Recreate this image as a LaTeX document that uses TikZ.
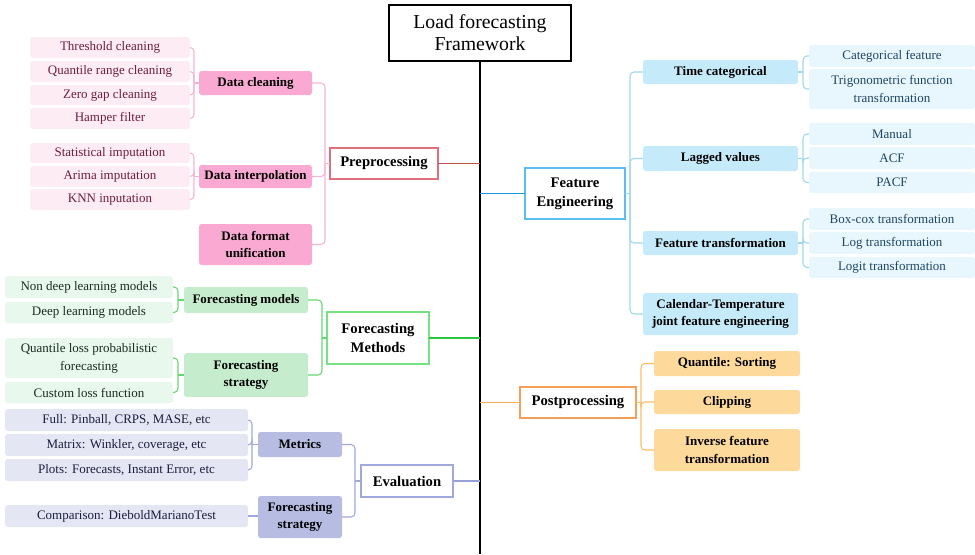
\documentclass[tikz,border=0pt]{standalone}
\usepackage{fontspec}
\setmainfont{Liberation Serif}
\definecolor{pMain}{RGB}{192,80,77}
\definecolor{pBorder}{RGB}{222,112,125}
\definecolor{pMid}{RGB}{250,170,210}
\definecolor{pLeaf}{RGB}{253,236,244}
\definecolor{pLine}{RGB}{246,180,210}
\definecolor{pText}{RGB}{110,30,60}
\definecolor{gMain}{RGB}{40,200,60}
\definecolor{gBorder}{RGB}{120,225,130}
\definecolor{gMid}{RGB}{198,236,206}
\definecolor{gLeaf}{RGB}{232,248,236}
\definecolor{gLine}{RGB}{100,215,110}
\definecolor{gText}{RGB}{25,45,30}
\definecolor{lMain}{RGB}{150,160,215}
\definecolor{lBorder}{RGB}{160,168,220}
\definecolor{lMid}{RGB}{182,188,226}
\definecolor{lLeaf}{RGB}{228,230,244}
\definecolor{lLine}{RGB}{160,168,220}
\definecolor{lText}{RGB}{28,28,60}
\definecolor{bMain}{RGB}{30,150,230}
\definecolor{bBorder}{RGB}{90,190,240}
\definecolor{bMid}{RGB}{197,235,250}
\definecolor{bLeaf}{RGB}{232,246,253}
\definecolor{bLine}{RGB}{160,215,240}
\definecolor{bText}{RGB}{30,70,100}
\definecolor{oMain}{RGB}{250,170,90}
\definecolor{oBorder}{RGB}{245,160,90}
\definecolor{oMid}{RGB}{253,217,155}
\definecolor{oLine}{RGB}{252,190,100}
\begin{document}
\begin{tikzpicture}[x=0.75pt,y=-0.75pt,
  bx/.style n args={4}{minimum width={(#3-#1)*0.75pt}, minimum height={(#4-#2)*0.75pt}, at={({(#1+#3)/2},{(#2+#4)/2})}},
  base/.style={rectangle, inner sep=0pt, outer sep=0pt, align=center},
  leaf/.style={base, rounded corners=2pt, font=\fontsize{9.75}{13.5}\selectfont},
  midbox/.style={base, rounded corners=2pt, font=\bfseries\fontsize{9.75}{12.8}\selectfont},
  topbox/.style={base, fill=white, line width=1pt, font=\bfseries\fontsize{11}{14.5}\selectfont},
  pleaf/.style={leaf, fill=pLeaf, text=pText},
  pmid/.style={midbox, fill=pMid},
  gleaf/.style={leaf, fill=gLeaf, text=gText},
  gmid/.style={midbox, fill=gMid},
  lleaf/.style={leaf, fill=lLeaf, text=lText},
  lmid/.style={midbox, fill=lMid},
  bleaf/.style={leaf, fill=bLeaf, text=bText},
  bmid/.style={midbox, fill=bMid},
  omid/.style={midbox, fill=oMid},
  link/.style={line width=0.8pt, rounded corners=3pt},
  mainlink/.style={line width=1.1pt}
]
\useasboundingbox (0,0) rectangle (975,554);
\coordinate (bottom) at (480,554);

% title and trunk
\node[base, draw, line width=1pt, fill=white, font=\fontsize{14.8}{16.5}\selectfont, bx={389}{5}{571}{61}] (title) {Load forecasting\\Framework};
\draw[line width=1.2pt] (title.south) -- (title.south |- bottom);

% ---------------- Preprocessing
\node[topbox, draw=pBorder, bx={330}{148}{438}{179}] (pre) {Preprocessing};
\node[pmid, bx={199}{71}{312}{95}] (dc) {Data cleaning};
\node[pmid, bx={199}{165}{312}{188}] (di) {Data interpolation};
\node[pmid, bx={199}{224}{312}{265}] (df) {Data format\\unification};
\node[pleaf, bx={30}{37}{190}{58}] (t1) {Threshold cleaning};
\node[pleaf, bx={30}{61}{190}{82}] (t2) {Quantile range cleaning};
\node[pleaf, bx={30}{85}{190}{105}] (t3) {Zero gap cleaning};
\node[pleaf, bx={30}{108}{190}{129}] (t4) {Hamper filter};
\node[pleaf, bx={30}{143}{190}{163}] (s1) {Statistical imputation};
\node[pleaf, bx={30}{166}{190}{187}] (s2) {Arima imputation};
\node[pleaf, bx={30}{189}{190}{210}] (s3) {KNN inputation};

\draw[mainlink, pMain] (pre.east) -- (pre.east -| title.south);
\coordinate (kPre) at (325,0);
\draw[link, pLine] (pre.west) -- (pre.west -| kPre);
\foreach \c in {dc,di,df} \draw[link, pLine] (\c.east) -- (\c.east -| kPre) -- (pre.west -| kPre);
\coordinate (kDC) at (194,0);
\draw[link, pLine] (dc.west) -- (dc.west -| kDC);
\foreach \c in {t1,t2,t3,t4} \draw[link, pLine] (\c.east) -- (\c.east -| kDC) -- (dc.west -| kDC);
\draw[link, pLine] (di.west) -- (di.west -| kDC);
\foreach \c in {s1,s2,s3} \draw[link, pLine] (\c.east) -- (\c.east -| kDC) -- (di.west -| kDC);

% ---------------- Forecasting Methods
\node[topbox, draw=gBorder, bx={327}{312}{429}{364}] (fm) {Forecasting\\Methods};
\node[gmid, bx={184}{287}{308}{313}] (fmod) {Forecasting models};
\node[gmid, bx={184}{353}{308}{397}] (fstr) {Forecasting\\strategy};
\node[gleaf, bx={5}{276}{173}{298}] (g1) {Non deep learning models};
\node[gleaf, bx={5}{302}{173}{323}] (g2) {Deep learning models};
\node[gleaf, bx={5}{338}{173}{378}] (g3) {Quantile loss probabilistic\\forecasting};
\node[gleaf, bx={5}{382}{173}{403}] (g4) {Custom loss function};

\draw[mainlink, gMain] (fm.east) -- (fm.east -| title.south);
\coordinate (kFM) at (322,0);
\draw[link, gLine] (fm.west) -- (fm.west -| kFM);
\foreach \c in {fmod,fstr} \draw[link, gLine] (\c.east) -- (\c.east -| kFM) -- (fm.west -| kFM);
\coordinate (kG) at (178,0);
\draw[link, gLine] (fmod.west) -- (fmod.west -| kG);
\foreach \c in {g1,g2} \draw[link, gLine] (\c.east) -- (\c.east -| kG) -- (fmod.west -| kG);
\draw[link, gLine] (fstr.west) -- (fstr.west -| kG);
\foreach \c in {g3,g4} \draw[link, gLine] (\c.east) -- (\c.east -| kG) -- (fstr.west -| kG);

% ---------------- Evaluation
\node[topbox, draw=lBorder, bx={361}{465}{453}{497}] (ev) {Evaluation};
\node[lmid, bx={258}{432}{342}{457}] (met) {Metrics};
\node[lmid, bx={258}{496}{342}{538}] (estr) {Forecasting\\strategy};
\node[lleaf, bx={5}{409}{248}{431}] (e1) {Full: Pinball, CRPS, MASE, etc};
\node[lleaf, bx={5}{434}{248}{456}] (e2) {Matrix: Winkler, coverage, etc};
\node[lleaf, bx={5}{459}{248}{481}] (e3) {Plots: Forecasts, Instant Error, etc};
\node[lleaf, bx={5}{505}{248}{527}] (e4) {Comparison: DieboldMarianoTest};

\draw[mainlink, lMain] (ev.east) -- (ev.east -| title.south);
\coordinate (kEV) at (355,0);
\draw[link, lLine] (ev.west) -- (ev.west -| kEV);
\foreach \c in {met,estr} \draw[link, lLine] (\c.east) -- (\c.east -| kEV) -- (ev.west -| kEV);
\coordinate (kM) at (252,0);
\draw[link, lLine] (met.west) -- (met.west -| kM);
\foreach \c in {e1,e2,e3} \draw[link, lLine] (\c.east) -- (\c.east -| kM) -- (met.west -| kM);
\draw[link, lLine] (e4.east) -- (e4.east -| estr.west);

% ---------------- Feature Engineering
\node[topbox, draw=bBorder, bx={525}{168}{625}{219}] (fe) {Feature\\Engineering};
\node[bmid, bx={643}{60}{798}{84}] (tc) {Time categorical};
\node[bmid, bx={643}{146}{798}{171}] (lv) {Lagged values};
\node[bmid, bx={643}{231}{798}{255}] (ft) {Feature transformation};
\node[bmid, bx={643}{293}{798}{335}] (ct) {Calendar-Temperature\\joint feature engineering};
\node[bleaf, bx={809}{45}{975}{67}] (c1) {Categorical feature};
\node[bleaf, bx={809}{69}{975}{109}] (c2) {Trigonometric function\\transformation};
\node[bleaf, bx={809}{123}{975}{145}] (l1) {Manual};
\node[bleaf, bx={809}{147}{975}{169}] (l2) {ACF};
\node[bleaf, bx={809}{172}{975}{193}] (l3) {PACF};
\node[bleaf, bx={809}{208}{975}{230}] (f1) {Box-cox transformation};
\node[bleaf, bx={809}{232}{975}{254}] (f2) {Log transformation};
\node[bleaf, bx={809}{257}{975}{278}] (f3) {Logit transformation};

\draw[mainlink, bMain] (fe.west -| title.south) -- (fe.west);
\coordinate (kFE) at (630,0);
\draw[link, bLine] (fe.east) -- (fe.east -| kFE);
\foreach \c in {tc,lv,ft,ct} \draw[link, bLine] (\c.west) -- (\c.west -| kFE) -- (fe.east -| kFE);
\coordinate (kB) at (803,0);
\draw[link, bLine] (tc.east) -- (tc.east -| kB);
\foreach \c in {c1,c2} \draw[link, bLine] (\c.west) -- (\c.west -| kB) -- (tc.east -| kB);
\draw[link, bLine] (lv.east) -- (lv.east -| kB);
\foreach \c in {l1,l2,l3} \draw[link, bLine] (\c.west) -- (\c.west -| kB) -- (lv.east -| kB);
\draw[link, bLine] (ft.east) -- (ft.east -| kB);
\foreach \c in {f1,f2,f3} \draw[link, bLine] (\c.west) -- (\c.west -| kB) -- (ft.east -| kB);

% ---------------- Postprocessing
\node[topbox, draw=oBorder, bx={520}{387}{636}{418}] (pp) {Postprocessing};
\node[omid, bx={654}{351}{800}{376}] (q1) {Quantile: Sorting};
\node[omid, bx={654}{390}{800}{414}] (q2) {Clipping};
\node[omid, bx={654}{429}{800}{471}] (q3) {Inverse feature\\transformation};

\draw[mainlink, oMain] (pp.west -| title.south) -- (pp.west);
\coordinate (kPP) at (641,0);
\draw[link, oLine] (pp.east) -- (pp.east -| kPP);
\foreach \c in {q1,q2,q3} \draw[link, oLine] (\c.west) -- (\c.west -| kPP) -- (pp.east -| kPP);
\end{tikzpicture}
\end{document}
